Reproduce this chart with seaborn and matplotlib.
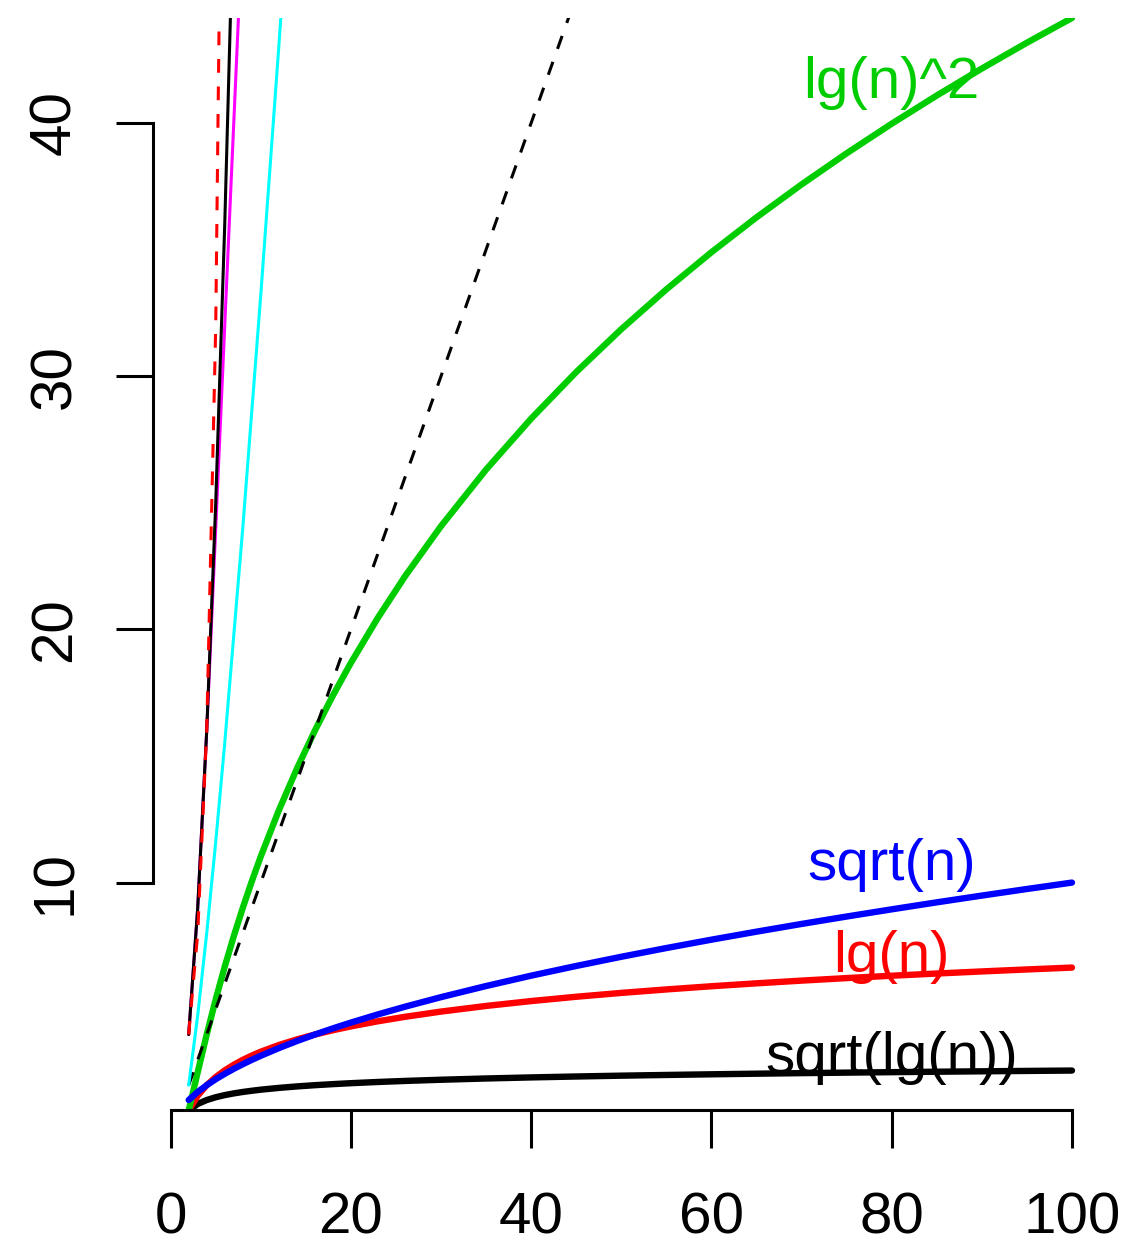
import matplotlib
matplotlib.use('Agg')
import matplotlib.pyplot as plt
import seaborn as sns

sns.set_style('ticks', {'axes.edgecolor': 'black', 'xtick.color': 'black',
                        'ytick.color': 'black', 'text.color': 'black'})
plt.rcParams['font.family'] = ['Liberation Sans', 'DejaVu Sans']

# slowly growing curves, read at these n
n_slow = [2, 3, 4, 5, 6, 7, 8, 9, 10, 12, 14, 16, 18, 20, 23, 26, 30, 35, 40, 45,
          50, 55, 60, 65, 70, 75, 80, 85, 90, 95, 100]
sqrt_lg_vals = [1.0, 1.259, 1.414, 1.524, 1.608, 1.676, 1.732, 1.780, 1.823, 1.893,
                1.951, 2.0, 2.042, 2.079, 2.127, 2.168, 2.215, 2.265, 2.307, 2.343,
                2.376, 2.404, 2.430, 2.454, 2.476, 2.496, 2.514, 2.532, 2.548, 2.563, 2.578]
lg_vals = [1.0, 1.585, 2.0, 2.322, 2.585, 2.807, 3.0, 3.170, 3.322, 3.585,
           3.807, 4.0, 4.170, 4.322, 4.524, 4.700, 4.907, 5.129, 5.322, 5.492,
           5.644, 5.781, 5.907, 6.022, 6.129, 6.229, 6.322, 6.409, 6.492, 6.570, 6.644]
sqrt_vals = [1.414, 1.732, 2.0, 2.236, 2.449, 2.646, 2.828, 3.0, 3.162, 3.464,
             3.742, 4.0, 4.243, 4.472, 4.796, 5.099, 5.477, 5.916, 6.325, 6.708,
             7.071, 7.416, 7.746, 8.062, 8.367, 8.660, 8.944, 9.220, 9.487, 9.747, 10.0]
lg_sq_vals = [1.0, 2.512, 4.0, 5.391, 6.682, 7.882, 9.0, 10.048, 11.035, 12.852,
              14.496, 16.0, 17.388, 18.679, 20.463, 22.094, 24.078, 26.310, 28.323, 30.161,
              31.853, 33.425, 34.891, 36.269, 37.568, 38.798, 39.966, 41.080, 42.145, 43.164, 44.141]

# fast growing lines (leave the top of the plot early)
n_lin = [2, 50]
lin_vals = [2, 50]
n_nlg = [2, 3, 4, 5, 6, 8, 10, 12, 14]
nlg_vals = [2.0, 4.755, 8.0, 11.61, 15.51, 24.0, 33.22, 43.02, 53.30]
n_fast = [2, 3, 4, 5, 6, 7, 8]
magenta_vals = [4, 9, 16, 24, 32, 40, 48]
sq_vals = [4, 9, 16, 25, 36, 49, 64]
n_exp = [2, 3, 4, 5, 6]
exp_vals = [4, 8, 16, 32, 64]

labels = ['lg(n)^2', 'sqrt(n)', 'lg(n)', 'sqrt(lg(n))']
label_y = [41.0, 10.1, 6.47, 2.48]
label_colors = ['#00CD00', '#0000FF', '#FF0000', '#000000']

fig = plt.figure(figsize=(11.26, 12.45), dpi=100)
ax = fig.add_axes([0.1362, 0.10843, 0.9834 - 0.1362, 0.98554 - 0.10843])

thick = 4.6
thin = 2.2
dash = (0, (4.5, 4.5))

sns.lineplot(x=n_slow, y=sqrt_lg_vals, ax=ax, color='#000000', lw=thick)
sns.lineplot(x=n_slow, y=lg_vals, ax=ax, color='#FF0000', lw=thick)
sns.lineplot(x=n_slow, y=lg_sq_vals, ax=ax, color='#00CD00', lw=thick)
sns.lineplot(x=n_slow, y=sqrt_vals, ax=ax, color='#0000FF', lw=thick)
sns.lineplot(x=n_lin, y=lin_vals, ax=ax, color='#000000', lw=thin, linestyle=dash)
sns.lineplot(x=n_nlg, y=nlg_vals, ax=ax, color='#00FFFF', lw=thin)
sns.lineplot(x=n_fast, y=magenta_vals, ax=ax, color='#FF00FF', lw=thin)
sns.lineplot(x=n_fast, y=sq_vals, ax=ax, color='#000000', lw=thin)
sns.lineplot(x=n_exp, y=exp_vals, ax=ax, color='#FF0000', lw=thin, linestyle=dash)

for txt, yy, cc in zip(labels, label_y, label_colors):
    ax.text(80, yy, txt, color=cc, fontsize=42, ha='center', va='baseline')

ax.set_xlim(-1.92, 103.92)
ax.set_ylim(1.02, 44.14)
ax.set_xticks([0, 20, 40, 60, 80, 100])
ax.set_yticks([10, 20, 30, 40])
ax.set_xlabel('')
ax.set_ylabel('')

for side in ['top', 'right']:
    ax.spines[side].set_visible(False)
ax.spines['left'].set_bounds(10, 40)
ax.spines['bottom'].set_bounds(0, 100)
for side in ['left', 'bottom']:
    ax.spines[side].set_linewidth(2.2)

ax.tick_params(axis='both', length=27, width=2.2, labelsize=42, left=True, bottom=True,
               colors='black')
ax.tick_params(axis='x', pad=32)
ax.tick_params(axis='y', pad=24, labelrotation=90)
for lab in ax.get_yticklabels():
    lab.set_va('center')

fig.savefig('out.png', dpi=100, facecolor='white')
